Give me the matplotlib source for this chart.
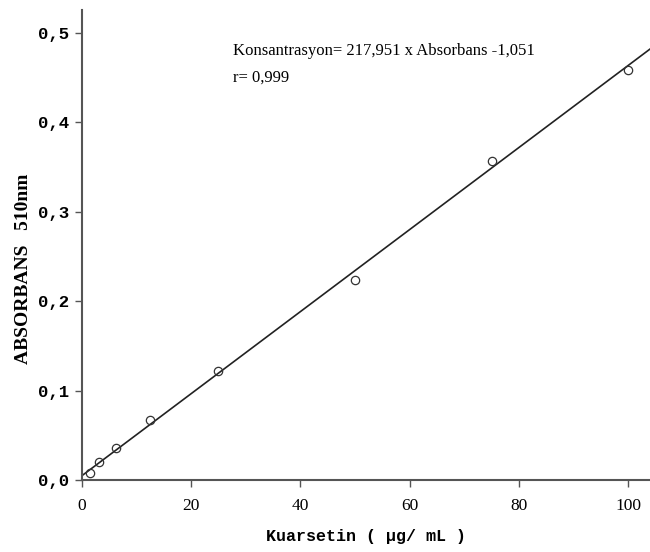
import matplotlib
matplotlib.use("Agg")
import matplotlib.pyplot as plt
import numpy as np

conc = [1.5625, 3.125, 6.25, 12.5, 25, 50, 75, 100]
absorb = [0.008, 0.020, 0.036, 0.067, 0.122, 0.224, 0.357, 0.459]
slope_c = 217.951
intercept_c = -1.051
xticks = [0, 20, 40, 60, 80, 100]
yticks = [0.0, 0.1, 0.2, 0.3, 0.4, 0.5]
ytick_labels = ["0,0", "0,1", "0,2", "0,3", "0,4", "0,5"]

fig = plt.figure(figsize=(6.5, 5.52), dpi=100)
ax = fig.add_axes([0.126, 0.1304, 0.874, 0.852])
xmin, xmax = 0, 104
ymin, ymax = 0, 0.526
ax.set_xlim(xmin, xmax)
ax.set_ylim(ymin, ymax)

xl = np.array([xmin, xmax])
yl = (xl - intercept_c) / slope_c
ax.plot(xl, yl, color="#222222", lw=1.2, zorder=2)
ax.plot(conc, absorb, linestyle="none", marker="o", markersize=6,
        markerfacecolor="none", markeredgecolor="#333333", markeredgewidth=0.9, zorder=3)

for s in ["top", "right"]:
    ax.spines[s].set_visible(False)
for s in ["left", "bottom"]:
    ax.spines[s].set_color("#555555")
    ax.spines[s].set_linewidth(1.5)
ax.tick_params(direction="out", length=5, width=1, color="#555555", pad=4)
ax.tick_params(axis="x", pad=8)

ax.set_xticks(xticks)
ax.set_xticklabels([str(v) for v in xticks], family="Liberation Serif", fontsize=12.5)
ax.set_yticks(yticks)
ax.set_yticklabels(ytick_labels, family="Liberation Mono", fontsize=12.5, fontweight="bold")

ax.set_xlabel("Kuarsetin ( µg/ mL )", family="Liberation Mono", fontsize=12,
              fontweight="bold")
ax.xaxis.set_label_coords(0.5, -0.104)
ax.set_ylabel("ABSORBANS   510nm", family="Liberation Serif", fontsize=14,
              fontweight="bold")
ax.yaxis.set_label_coords(-0.088, 0.449)

ax.text(0.266, 0.93, "Konsantrasyon= 217,951 x Absorbans -1,051\nr= 0,999",
        transform=ax.transAxes, family="Liberation Serif", fontsize=12,
        va="top", ha="left", linespacing=1.95)

fig.savefig("out.png", dpi=100)
